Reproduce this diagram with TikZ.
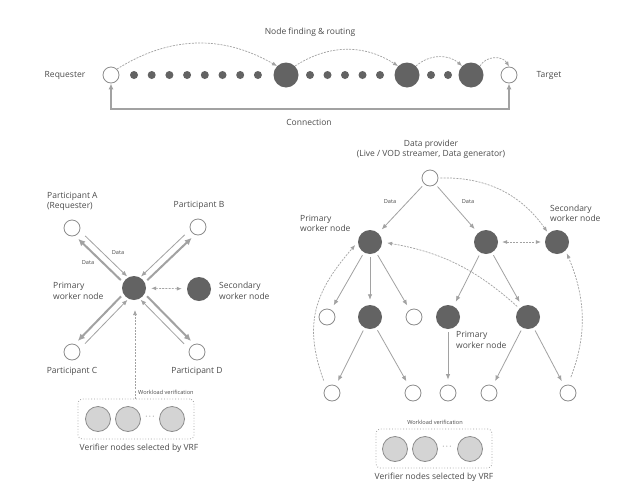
\documentclass[tikz,border=0pt]{standalone}
\usepackage{fontspec}
\setmainfont{Open Sans}
\usetikzlibrary{arrows.meta,calc}
\definecolor{dk}{HTML}{636363}
\definecolor{gc}{HTML}{8C8C8C}
\definecolor{ln}{HTML}{A2A2A2}
\definecolor{tc}{HTML}{4C4C4C}
\definecolor{vf}{HTML}{D4D4D4}
\tikzset{
  opn/.style={circle,draw=gc,fill=white,line width=0.8pt,minimum size=16pt,inner sep=0pt},
  drk/.style={circle,fill=dk,minimum size=24pt,inner sep=0pt},
  sml/.style={circle,fill=dk,minimum size=8pt,inner sep=0pt},
  ver/.style={circle,fill=vf,draw=gc,line width=0.8pt,minimum size=25pt,inner sep=0pt},
  vbox/.style={draw=ln,dotted,rounded corners=4pt,line width=0.8pt,minimum width=116pt,minimum height=40pt,inner sep=0pt},
  lbl/.style={text=tc,font=\fontsize{8.5}{10.5}\selectfont,inner sep=0pt},
  tiny/.style={text=tc,font=\fontsize{5.6}{7}\selectfont,inner sep=0pt},
  elp/.style={text=gc,font=\fontsize{8}{8}\selectfont,inner sep=0pt},
  dsh/.style={draw=ln,dashed,dash pattern=on 2pt off 1.2pt,line width=0.7pt,-{Latex[length=5pt,width=4pt]}},
  dsh2/.style={dsh,{Latex[length=5pt,width=4pt]}-{Latex[length=5pt,width=4pt]}},
  thn/.style={draw=ln,line width=0.8pt,-{Latex[length=5.5pt,width=4.5pt]}},
  thk/.style={draw=ln,line width=2pt,-{Latex[length=7pt,width=6.5pt]}},
  conn/.style={draw=ln,line width=1.3pt,{Latex[length=6pt,width=5pt]}-{Latex[length=6pt,width=5pt]}},
}
\begin{document}
\begin{tikzpicture}[x=1pt,y=1pt]
\useasboundingbox (0,0) rectangle (640,-501);
\fill[white] (0,0) rectangle (640,-501);

% ---------- top ----------
\node[lbl] (lrq) at (65,-75) {Requester};
\node[lbl] (ltg) at (549,-75) {Target};
\node[opn] (rq) at (111,-75) {};
\foreach \i in {0,...,7} \node[sml] (sa\i) at (134+17.7*\i,-75) {};
\node[drk,minimum size=25pt] (b1) at (286,-75) {};
\foreach \i in {0,...,4} \node[sml] (sb\i) at (310+17.5*\i,-75) {};
\node[drk,minimum size=25pt] (b2) at (407,-75) {};
\node[sml] (sc0) at (431,-75) {};
\node[sml] (sc1) at (448,-75) {};
\node[drk,minimum size=25pt] (b3) at (471,-75) {};
\node[opn] (tg) at (509,-75) {};
\node[lbl] (lnf) at (310,-32) {Node finding \& routing};
\node[lbl] (lcn) at (309,-122) {Connection};
\draw[dsh] (rq.north east) to[bend left=31] (b1.north west);
\draw[dsh] (b1.north east) to[bend left=33] (b2.north west);
\draw[dsh] (b2.north east) to[bend left=42] (b3.north west);
\draw[dsh] (b3.north east) to[out=60,in=120,looseness=1.1] (tg.north);
\coordinate (cl) at (111,-109);
\coordinate (cr) at (509,-109);
\draw[conn] (rq.south) -- (cl) -- (cr) -- (tg.south);

% ---------- left ----------
\node[opn] (pA) at (72,-228) {};
\node[opn] (pB) at (198,-227) {};
\node[opn] (pC) at (72,-352) {};
\node[opn] (pD) at (197,-352) {};
\node[drk] (pw) at (134,-288) {};
\node[drk] (sw) at (199,-289) {};
\node[lbl,align=left,anchor=west] (lA) at (47,-201.5) {Participant A\\(Requester)};
\node[lbl] (lB) at (199,-205) {Participant B};
\node[lbl] (lC) at (72,-371) {Participant C};
\node[lbl] (lD) at (197,-371) {Participant D};
\node[lbl,align=left,anchor=west] (lpw) at (53,-291) {Primary\\worker node};
\node[lbl,align=left,anchor=west] (lsw) at (219,-291) {Secondary\\worker node};
\node[tiny] (ld1) at (118,-253) {Data};
\node[tiny] (ld2) at (88,-263) {Data};
% A
\draw[thk] ($(pw)!15pt!(pA)!3.5pt!90:(pA)$) -- ($(pA)!12pt!(pw)!3.5pt!-90:(pw)$);
\draw[thn] ($(pA)!15pt!(pw)!3.5pt!90:(pw)$) -- ($(pw)!13pt!(pA)!3.5pt!-90:(pA)$);
% B
\draw[thk] ($(pw)!15pt!(pB)!3.5pt!-90:(pB)$) -- ($(pB)!12pt!(pw)!3.5pt!90:(pw)$);
\draw[thn] ($(pB)!15pt!(pw)!3.5pt!-90:(pw)$) -- ($(pw)!13pt!(pB)!3.5pt!90:(pB)$);
% C
\draw[thk] ($(pw)!15pt!(pC)!3.5pt!-90:(pC)$) -- ($(pC)!12pt!(pw)!3.5pt!90:(pw)$);
\draw[thn] ($(pC)!15pt!(pw)!3.5pt!-90:(pw)$) -- ($(pw)!13pt!(pC)!3.5pt!90:(pC)$);
% D
\draw[thk] ($(pw)!15pt!(pD)!3.5pt!90:(pD)$) -- ($(pD)!12pt!(pw)!3.5pt!-90:(pw)$);
\draw[thn] ($(pD)!15pt!(pw)!3.5pt!90:(pw)$) -- ($(pw)!13pt!(pD)!3.5pt!-90:(pD)$);
\draw[dsh2,shorten <=5pt,shorten >=5pt] (pw) -- (sw);
% verifier box left
\node[vbox] (box1) at (136,-419) {};
\node[ver] (v11) at (98,-419) {};
\node[ver] (v12) at (128,-419) {};
\node[ver] (v13) at (172,-419) {};
\node[elp] (vd1) at (150,-418) {·\,·\,·};
\node[tiny,anchor=west] (lwv1) at (138,-392) {Workload verification};
\node[lbl] (lvr1) at (139,-448) {Verifier nodes selected by VRF};
\coordinate (bt1) at (135,-399);
\draw[dsh,shorten >=22pt] (bt1) -- (bt1 |- pw);

% ---------- right ----------
\node[lbl,align=center] (ldp) at (431,-149.5) {Data provider\\(Live / VOD streamer, Data generator)};
\node[opn] (dp) at (430,-178) {};
\node[drk] (rp1) at (370,-242) {};
\node[drk] (rm) at (486,-242) {};
\node[drk] (rs) at (557,-242) {};
\node[opn] (o1) at (327,-317) {};
\node[drk] (d1) at (370,-317) {};
\node[opn] (o2) at (414,-317) {};
\node[drk] (d2) at (448,-317) {};
\node[drk] (d3) at (528,-317) {};
\node[opn] (e1) at (332,-393) {};
\node[opn] (e2) at (413,-393) {};
\node[opn] (e3) at (448,-393) {};
\node[opn] (e4) at (489,-393) {};
\node[opn] (e5) at (568,-393) {};
\node[lbl,align=left,anchor=west] (lrp1) at (300,-223.5) {Primary\\worker node};
\node[lbl,align=left,anchor=west] (lrs) at (550,-213.5) {Secondary\\worker node};
\node[lbl,align=left,anchor=west] (ld2p) at (456,-340) {Primary\\worker node};
\node[tiny] (ld3) at (390,-202) {Data};
\node[tiny] (ld4) at (468,-202) {Data};
\begin{scope}[shorten <=3pt,shorten >=5pt]
\draw[thn] (dp) -- (rp1);
\draw[thn] (dp) -- (rm);
\draw[thn] (rp1) -- (o1);
\draw[thn] (rp1) -- (d1);
\draw[thn] (rp1) -- (o2);
\draw[thn] (rm) -- (d2);
\draw[thn] (rm) -- (d3);
\draw[thn] (d1) -- (e1);
\draw[thn] (d1) -- (e2);
\draw[thn] (d2) -- (e3);
\draw[thn] (d3) -- (e4);
\draw[thn] (d3) -- (e5);
\end{scope}
\draw[dsh,shorten <=2pt,shorten >=2pt] (dp.east) to[bend left=28] (rs.north west);
\draw[dsh2,shorten <=4pt,shorten >=4pt] (rm) -- (rs);
\draw[dsh,shorten <=7pt,shorten >=4pt] (e1.north west) to[out=110,in=229,looseness=1.15] (rp1.west);
\draw[dsh,shorten <=3pt,shorten >=5pt] (d3.north west) to[bend right=16] (rp1.east);
\draw[dsh,shorten <=8pt,shorten >=3pt] (e5.north) to[bend right=22] (rs.south east);
% verifier box right
\node[vbox,minimum height=39pt] (box2) at (434,-448.5) {};
\node[ver] (v21) at (395,-449) {};
\node[ver] (v22) at (425,-449) {};
\node[ver] (v23) at (470,-449) {};
\node[elp] (vd2) at (447,-448) {·\,·\,·};
\node[tiny] (lwv2) at (435,-422) {Workload verification};
\node[lbl] (lvr2) at (434,-477) {Verifier nodes selected by VRF};
\end{tikzpicture}
\end{document}
